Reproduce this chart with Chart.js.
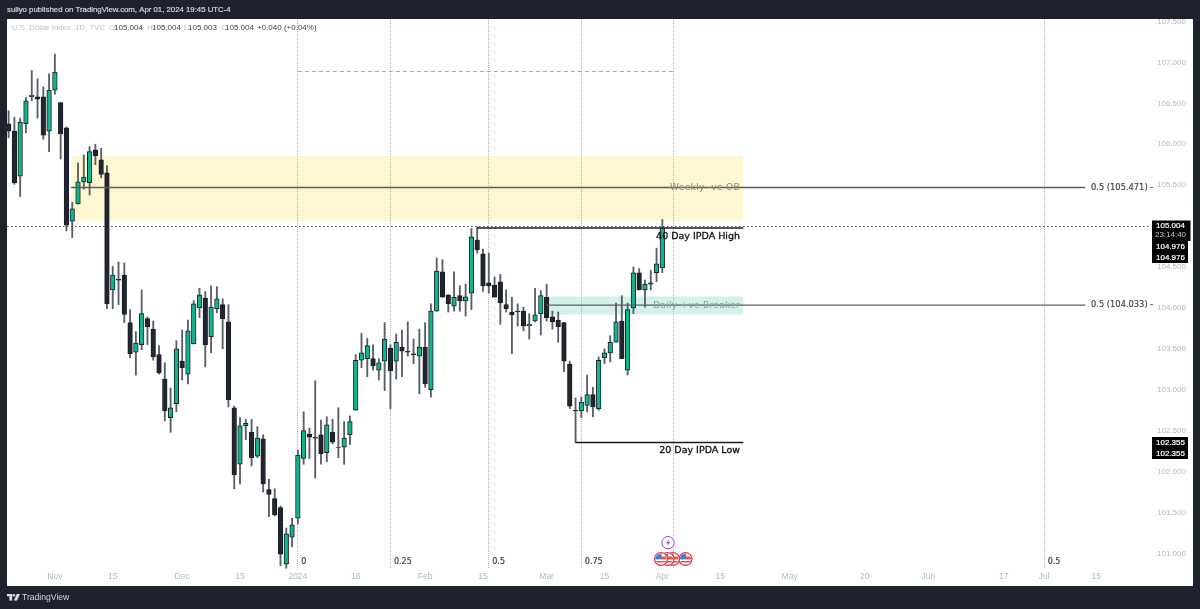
<!DOCTYPE html>
<html><head><meta charset="utf-8">
<style>html,body{margin:0;padding:0;background:#1e222d;overflow:hidden}canvas{display:block}</style>
<script src="https://cdn.jsdelivr.net/npm/chart.js@4/dist/chart.umd.min.js"></script>
</head><body><canvas id="c" width="1200" height="609"></canvas>
<script>
const opens =[106.25,106.16,105.61,106.25,106.58,106.58,106.58,106.16,106.66,106.51,106.20,105.06,105.27,105.54,105.53,105.93,105.81,105.65,104.22,104.35,104.40,103.82,103.46,103.55,103.87,103.74,103.43,103.13,102.66,102.83,103.35,103.19,103.56,104.00,104.12,103.65,103.99,104.04,103.83,102.78,102.09,102.56,102.48,102.19,102.40,101.78,101.67,101.56,100.87,101.20,101.43,102.16,102.46,102.42,102.45,102.23,102.48,102.30,102.30,102.45,102.75,103.36,103.38,103.38,103.24,103.35,103.51,103.35,103.52,103.47,103.44,103.41,103.52,103.00,103.96,104.44,104.16,104.02,104.15,104.085,104.18,104.83,104.66,104.305,104.28,104.32,104.04,103.95,103.96,103.96,103.78,103.84,103.93,104.13,103.89,103.85,103.82,103.315,102.75,102.74,102.81,102.94,102.77,103.39,103.45,103.58,103.84,103.24,104.00,104.43,104.22,104.305,104.43,104.49];
const closes=[106.16,105.53,106.27,106.53,106.60,106.55,106.11,106.66,106.88,106.13,105.01,105.21,105.54,105.60,105.91,105.86,105.63,104.05,104.40,104.34,103.92,103.44,103.57,103.93,103.77,103.40,103.21,102.74,102.78,103.50,103.27,103.72,104.05,104.16,103.55,104.01,104.11,103.87,102.88,101.96,102.56,102.59,102.17,102.41,101.85,101.72,101.47,100.99,101.24,101.35,102.20,102.50,102.42,102.41,102.22,102.57,102.36,102.295,102.41,102.61,103.36,103.45,103.54,103.29,103.33,103.62,103.23,103.58,103.47,103.46,103.43,103.52,103.07,103.96,104.45,104.13,104.05,104.13,104.085,104.134,104.87,104.71,104.27,104.27,104.13,104.06,103.99,103.915,103.95,103.78,103.80,103.915,104.15,103.88,103.83,103.77,103.35,102.80,102.74,102.85,102.94,102.79,103.36,103.45,103.58,103.83,103.38,103.98,104.43,104.22,104.29,104.29,104.54,104.98];
const highs =[106.41,106.33,106.32,106.57,106.90,106.80,106.70,106.86,107.10,106.51,106.21,105.29,105.77,105.87,105.97,106.00,105.95,105.74,104.51,104.56,104.55,103.98,103.71,104.22,103.89,103.84,103.54,103.33,103.02,103.60,103.73,103.85,104.09,104.24,104.20,104.27,104.26,104.11,104.04,102.80,102.66,102.64,102.64,102.55,102.45,101.91,101.79,101.58,101.31,101.43,102.26,102.73,102.53,103.11,102.63,102.67,102.64,102.78,102.61,102.68,103.43,103.69,103.63,103.55,103.38,103.82,103.55,103.68,103.73,103.83,103.62,103.74,103.82,104.05,104.61,104.59,104.16,104.44,104.27,104.29,104.97,104.99,104.72,104.67,104.38,104.41,104.22,104.13,104.05,104.01,103.93,104.24,104.21,104.29,103.96,103.95,103.82,103.35,102.90,102.91,103.18,103.03,103.40,103.50,103.66,104.06,104.15,104.06,104.50,104.48,104.34,104.46,104.73,105.08];
const lows  =[106.08,105.51,105.36,106.14,106.53,106.32,106.06,105.91,106.61,105.82,104.94,104.86,105.27,105.45,105.38,105.75,105.59,103.99,103.99,104.04,103.82,103.39,103.18,103.49,103.55,103.36,103.19,102.62,102.48,102.73,103.12,103.07,103.56,103.88,103.28,103.45,103.94,103.50,102.79,101.79,101.85,102.39,102.07,102.17,101.75,101.45,101.46,100.85,100.82,101.08,101.36,102.09,102.16,101.92,102.09,102.12,102.34,102.17,102.09,102.33,102.75,103.27,103.16,103.24,103.12,102.99,102.77,103.13,103.16,103.41,103.32,102.95,103.03,102.91,103.96,104.13,103.95,103.96,103.96,103.90,103.98,104.67,104.20,104.18,104.13,103.80,103.95,103.44,103.78,103.72,103.62,103.83,103.67,103.84,103.74,103.58,103.22,102.77,102.355,102.66,102.73,102.67,102.75,103.32,103.34,103.58,103.38,103.18,103.93,104.22,104.01,104.22,104.32,104.43];

const axisTickIndex=[8,18,30,40,50,60,72,82,93,103,113,123,135,148,159,172,179,188];
const axisTickLabel=["Nov","15","Dec","15","2024","16","Feb","15","Mar","15","Apr","15","May","20","Jun","17","Jul","15"];
const fibIndex=[50,66,83,99,115,179];
const fibLabel=["0","0.25","0.5","0.75","","0.5"];
const weeklyZone=[105.86,105.065], breakerZone=[104.14,103.92];
const midLevels=[105.471,104.033];
const ipdaHigh=104.976, ipdaLow=102.355, lastPrice=105.004, rangeTop=106.89;

const GREEN='#12b490', DARK='#21252f', WICK='#5a5e66', EDGE='#1a1f26';
const isUp=i=>closes[i]>=opens[i];
const idx=opens.map((_,i)=>i);
const px=(xs,v)=>xs.getPixelForValue(v);

function txt(ctx,s,x,y,font,color,align,spacing,heavy){
  ctx.font=font;ctx.fillStyle=color;ctx.textAlign=align||'left';ctx.textBaseline='middle';
  ctx.letterSpacing=spacing||'0px';ctx.fillText(s,x,y);
  if(heavy){ctx.strokeStyle=color;ctx.lineWidth=heavy;ctx.setLineDash([]);ctx.strokeText(s,x,y);}
  ctx.letterSpacing='0px';
}
const F='"Liberation Sans",Arial,sans-serif', D='"DejaVu Sans",sans-serif';

const backPlugin={id:'back',
 beforeDraw(ch){const c=ch.ctx;c.save();
  c.fillStyle='#1e222d';c.fillRect(0,0,1200,609);
  c.fillStyle='#ffffff';c.fillRect(7,19,1186,567);
  c.restore();},
 beforeDatasetsDraw(ch){const c=ch.ctx,x=ch.scales.x,y=ch.scales.y;c.save();
  c.beginPath();c.rect(ch.chartArea.left,ch.chartArea.top,1186,ch.chartArea.height);c.clip();
  // zones
  c.fillStyle='#fff7d1';c.fillRect(px(x,11),px(y,weeklyZone[0]),px(x,127)-px(x,11),px(y,weeklyZone[1])-px(y,weeklyZone[0]));
  c.fillStyle='#d4f0eb';c.fillRect(px(x,93.3),px(y,breakerZone[0]),px(x,127)-px(x,93.3),px(y,breakerZone[1])-px(y,breakerZone[0]));
  // fib time zones
  c.strokeStyle='#b0b2b7';c.lineWidth=1;c.setLineDash([1,1]);
  fibIndex.forEach(i=>{const X=Math.floor(px(x,i))+.5;c.beginPath();c.moveTo(X,19);c.lineTo(X,569);c.stroke();});
  // top dashed range
  c.setLineDash([4,3]);c.strokeStyle='#a6a6a6';
  let Y=Math.round(px(y,rangeTop))+.5;c.beginPath();c.moveTo(px(x,50),Y);c.lineTo(px(x,115),Y);c.stroke();
  // last price dotted
  c.setLineDash([1.5,2.5]);c.strokeStyle='#50545c';
  Y=Math.round(px(y,lastPrice))+.5;c.beginPath();c.moveTo(7,Y);c.lineTo(1150,Y);c.stroke();
  c.restore();},
 afterDraw(ch){const c=ch.ctx,x=ch.scales.x,y=ch.scales.y;c.save();
  // fib labels
  fibIndex.forEach((i,k)=>{if(fibLabel[k])txt(c,fibLabel[k],px(x,i)+3.5,562,'8px '+D,'#3a3d45','left','0px',.2);});
  // annotation text
  txt(c,'Weekly -ve OB',740,px(y,midLevels[0]),'9px '+D,'#86867f','right','0.35px');
  txt(c,'Daily +ve Breaker',740,px(y,midLevels[1]),'9px '+D,'#8ba19d','right','0.3px');
  txt(c,'40 Day IPDA High',740,237,'9.5px '+D,'#111','right','0px',.3);
  txt(c,'20 Day IPDA Low',740,451,'9.5px '+D,'#111','right','0px',.3);
  txt(c,'0.5 ('+midLevels[0].toFixed(3)+') -',1091,px(y,midLevels[0]),'8.3px '+D,'#3c3f46','left','0px',.15);
  txt(c,'0.5 ('+midLevels[1].toFixed(3)+') -',1091,px(y,midLevels[1]),'8.3px '+D,'#3c3f46','left','0px',.15);
  // price tags
  c.fillStyle='#000';c.fillRect(1152,220.5,38.5,20.5);c.fillRect(1152,241,36,22);c.fillRect(1152,437,36,22);
  const tf='8px '+F;
  txt(c,lastPrice.toFixed(3),1170.5,225.5,tf,'#fff','center','0px',.2);
  txt(c,'23:14:40',1170.5,235,tf,'#c9c9c9','center');
  txt(c,ipdaHigh.toFixed(3),1170.5,246.5,tf,'#fff','center','0px',.2);
  txt(c,ipdaHigh.toFixed(3),1170.5,257.5,tf,'#fff','center','0px',.2);
  txt(c,ipdaLow.toFixed(3),1170.5,442.5,tf,'#fff','center','0px',.2);
  txt(c,ipdaLow.toFixed(3),1170.5,453.5,tf,'#fff','center','0px',.2);
  // header
  txt(c,'suliyo published on TradingView.com, Apr 01, 2024 19:45 UTC-4',7,10,'7.8px '+F,'#d6d8de','left','0px',.2);
  const lf='8px '+F, gr='#c3c5cc', dk='#3c3f46';
  txt(c,'U.S. Dollar Index, 1D, TVC',12,27.5,'7.8px '+F,gr);
  [[109,'O',114,'105.004'],[147,'H',152,'105.004'],[184,'L',188,'105.003'],[221,'C',225,'105.004']].forEach(a=>{txt(c,a[1],a[0],27.5,lf,gr);txt(c,a[3],a[2],27.5,lf,dk);});
  txt(c,'+0.040 (+0.04%)',257,27.5,lf,dk);
  // event icons
  [685.5,673,667.5,661].forEach(X=>{const Y=559,r=6.5;
    c.beginPath();c.arc(X,Y,r,0,7);c.fillStyle='#fff';c.fill();
    c.save();c.beginPath();c.arc(X,Y,r-1,0,7);c.clip();
    c.fillStyle='#e8484e';for(let k=0;k<3;k++)c.fillRect(X-r,Y-1+k*3,2*r,1.4);
    c.fillRect(X,Y-r,r,1.6);c.fillRect(X,Y-2.5,r,1.4);
    c.fillStyle='#3f7fd6';c.fillRect(X-r,Y-r,r+.5,r);c.restore();
    c.beginPath();c.arc(X,Y,r,0,7);c.strokeStyle='#e2353c';c.lineWidth=1.2;c.stroke();});
  c.beginPath();c.arc(668,542.7,6.2,0,7);c.fillStyle='#fff';c.fill();c.strokeStyle='#a23fc4';c.lineWidth=1;c.stroke();
  c.beginPath();c.moveTo(669.3,539);c.lineTo(666,543.2);c.lineTo(668,543.2);c.lineTo(666.8,546.4);c.lineTo(670.2,542);c.lineTo(668.2,542);c.closePath();c.fillStyle='#a23fc4';c.fill();
  // footer logo
  c.fillStyle='#d9dbe0';
  c.fillRect(7,594,5.2,2.3);c.fillRect(9.4,594,2.8,6.6);
  c.beginPath();c.arc(14,595.2,1.2,0,7);c.fill();
  c.beginPath();c.moveTo(16.8,594);c.lineTo(20,594);c.lineTo(17,600.6);c.lineTo(13.8,600.6);c.closePath();c.fill();
  txt(c,'TradingView',22,597.5,'8.6px '+F,'#d1d4dc');
  c.restore();}
};

new Chart(document.getElementById('c'),{
 type:'bar',
 data:{datasets:[
  {type:'line',data:[{x:10.8,y:midLevels[0]},{x:186.1,y:midLevels[0]}],borderColor:'#5a5c60',borderWidth:1.3,pointRadius:0,order:1},
  {type:'line',data:[{x:93,y:midLevels[1]},{x:186.1,y:midLevels[1]}],borderColor:'#5a5c60',borderWidth:1.3,pointRadius:0,order:1},
  {type:'line',data:[{x:81,y:ipdaHigh},{x:127,y:ipdaHigh}],borderColor:'#1c1c1c',borderWidth:1.6,pointRadius:0,order:1},
  {type:'line',data:[{x:98,y:ipdaLow},{x:127,y:ipdaLow}],borderColor:'#1c1c1c',borderWidth:1.6,pointRadius:0,order:1},
  {label:'wick',data:idx.map(i=>({x:i,y:[lows[i],highs[i]]})),backgroundColor:WICK,borderWidth:0,barThickness:1.2,grouped:false,order:3},
  {label:'body',data:idx.map(i=>({x:i,y:[Math.min(opens[i],closes[i]),Math.max(opens[i],closes[i])]})),
   backgroundColor:idx.map(i=>isUp(i)?GREEN:DARK),borderColor:EDGE,borderWidth:1,borderSkipped:false,barThickness:4.6,grouped:false,order:2}
 ]},
 options:{responsive:false,animation:false,
  layout:{padding:{left:7,top:19,right:0,bottom:0}},
  plugins:{legend:{display:false},tooltip:{enabled:false}},
  scales:{
   x:{type:'linear',min:-0.277,max:197.3,offset:false,grid:{display:false,drawTicks:false},border:{display:false},
    afterBuildTicks(a){a.ticks=axisTickIndex.map(v=>({value:v}));},
    afterFit(a){a.height=40;},
    ticks:{autoSkip:false,maxRotation:0,minRotation:0,color:'#b4b7c0',padding:3,font:{family:F,size:8.5},
     callback(v){const k=axisTickIndex.indexOf(v);return k>=0?axisTickLabel[k]:'';}}},
   y:{position:'right',min:100.81,max:107.53,grid:{display:false,drawTicks:false},border:{display:false},
    afterFit(a){a.width=50;},
    ticks:{stepSize:0.5,includeBounds:false,autoSkip:false,color:'#b4b7c0',padding:7,font:{family:F,size:8},
     callback(v){return Math.abs(v-105)<1e-6?'':Number(v).toFixed(3);}}}
  }
 },
 plugins:[backPlugin]
});
</script></body></html>
